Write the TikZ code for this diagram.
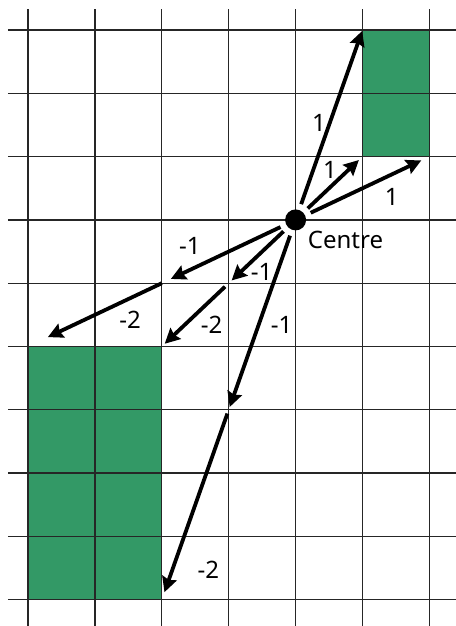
\documentclass[tikz,border=0pt]{standalone}
\usepackage{fontspec}
\setmainfont{Noto Sans}
\usepackage{xcolor}
\usepackage{tikz}
\usetikzlibrary{positioning, arrows.meta, calc}
\definecolor{cellgreen}{HTML}{339966}

\tikzset{
  gridline/.style={line width=1.3pt, draw=black!85},
  vec/.style={line width=3.8pt, -{Stealth[length=15pt, width=15pt, inset=2pt]}},
  lbl/.style={font=\fontsize{24}{28}\selectfont, inner sep=0pt},
}

\begin{document}
\begin{tikzpicture}[x=66.9pt, y=-63.3pt]
    \useasboundingbox (-0.4185,-0.474) rectangle (6.397,9.415);
    \fill[cellgreen] (5,0) rectangle (6,2);
    \fill[cellgreen] (0,5) rectangle (2,9);
    \foreach \r in {0,...,9}
      \draw[gridline] (-0.3,\r) -- (6.45,\r);
    \foreach \q in {0,...,6}
      \draw[gridline] (\q,-0.33) -- (\q,9.45);
    \coordinate (p50) at (5,0);
    \coordinate (p52) at (5,2);
    \coordinate (p62) at (6,2);
    \coordinate (p24) at (2,4);
    \coordinate (p34) at (3,4);
    \coordinate (p36) at (3,6);
    \coordinate (p05) at (0,5);
    \coordinate (p25) at (2,5);
    \coordinate (p29) at (2,9);
    \node[circle, fill=black, minimum size=21pt, inner sep=0pt] (c) at (4,3) {};
    \node[lbl, anchor=west] (centre) at (4.18,3.32) {Centre};
    \draw[vec, shorten <=6pt, shorten >=1pt] (c) -- (p50);
    \draw[vec, shorten <=6pt, shorten >=5pt] (c) -- (p52);
    \draw[vec, shorten <=6pt, shorten >=9pt] (c) -- (p62);
    \draw[vec, shorten <=6pt, shorten >=10pt] (c) -- (p24);
    \draw[vec, shorten <=6pt, shorten >=4pt] (c) -- (p34);
    \draw[vec, shorten <=6pt, shorten >=3pt] (c) -- (p36);
    \draw[vec, shorten >=22pt] (p24) -- (p05);
    \draw[vec, shorten <=5pt, shorten >=4pt] (p34) -- (p25);
    \draw[vec, shorten <=4pt, shorten >=8pt] (p36) -- (p29);
    \node[lbl] (l50) at (4.35,1.47) {1};
    \node[lbl] (l52) at (4.515,2.21) {1};
    \node[lbl] (l62) at (5.436,2.638) {1};
    \node[lbl] (l24) at (2.42,3.41) {-1};
    \node[lbl] (l34) at (3.493,3.818) {-1};
    \node[lbl] (l36) at (3.792,4.66) {-1};
    \node[lbl] (l05) at (1.525,4.58) {-2};
    \node[lbl] (l25) at (2.746,4.66) {-2};
    \node[lbl] (l29) at (2.695,8.53) {-2};
\end{tikzpicture}
\end{document}
